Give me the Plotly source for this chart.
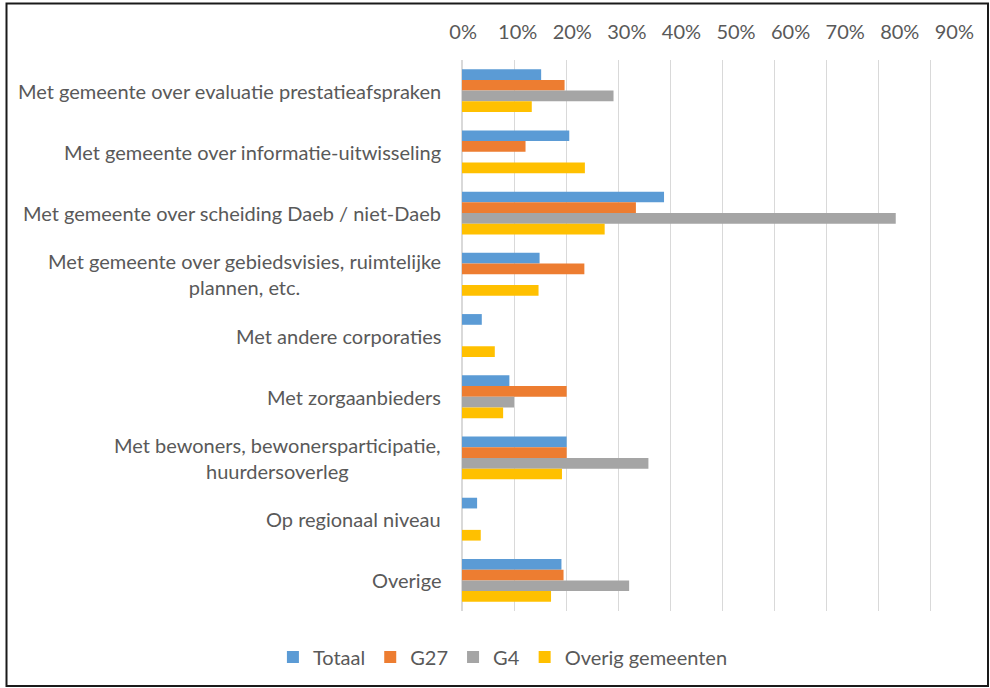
import plotly.graph_objects as go

categories = [
    "Met gemeente over evaluatie prestatieafspraken",
    "Met gemeente over informatie-uitwisseling",
    "Met gemeente over scheiding Daeb / niet-Daeb",
    "Met gemeente over gebiedsvisies, ruimtelijke<br>plannen, etc.",
    "Met andere corporaties",
    "Met zorgaanbieders",
    "Met bewoners, bewonersparticipatie,<br>huurdersoverleg",
    "Op regionaal niveau",
    "Overige",
]
totaal = [0.152, 0.206, 0.388, 0.149, 0.038, 0.091, 0.201, 0.029, 0.191]
g27 = [0.197, 0.122, 0.334, 0.235, 0, 0.201, 0.201, 0, 0.195]
g4 = [0.291, 0, 0.833, 0, 0, 0.100, 0.358, 0, 0.321]
overig = [0.134, 0.236, 0.274, 0.147, 0.063, 0.079, 0.192, 0.036, 0.171]
tick_vals = [0, 0.1, 0.2, 0.3, 0.4, 0.5, 0.6, 0.7, 0.8, 0.9]

series = [
    ("Totaal", totaal, "#5B9BD5"),
    ("G27", g27, "#ED7D31"),
    ("G4", g4, "#A5A5A5"),
    ("Overig gemeenten", overig, "#FFC000"),
]

W, H = 990, 688
L, R, T, B = 462, 15, 60, 77
FONT = "Lato"
FS = 20
GREY_TXT = "#595959"
pw, ph = W - L - R, H - T - B

# Excel : grille à ~52 px / 10 %, étiquettes à ~54.7 px / 10 %
grid_px = 52.07
label_px = 54.7

fig = go.Figure()
for name, vals, col in series:
    fig.add_trace(go.Bar(
        y=categories, x=vals, name=name, orientation="h",
        marker=dict(color=col, line=dict(width=0)),
    ))

# labels de catégories centrés sur plusieurs lignes (style Excel)
for cat in categories:
    fig.add_annotation(
        x=0, xref="paper", y=cat, yref="y", xanchor="right", xshift=-19,
        text=cat, showarrow=False, align="center",
        font=dict(family=FONT, size=FS, color=GREY_TXT),
    )

fig.add_shape(
    type="rect", xref="paper", yref="paper",
    x0=(6.5 - L) / pw, x1=(988 - L) / pw,
    y0=(ph + T - 686) / ph, y1=(ph + T - 3.5) / ph,
    line=dict(color="#1a1a1a", width=2),
)

fig.update_layout(
    width=W, height=H,
    margin=dict(l=L, r=R, t=T, b=B),
    paper_bgcolor="white", plot_bgcolor="white",
    barmode="group", bargap=0.30, bargroupgap=0,
    font=dict(family=FONT, size=FS, color=GREY_TXT),
    showlegend=True,
    legend=dict(
        orientation="h", xref="container", yref="container",
        x=0.508, y=1 - 657 / H, xanchor="center", yanchor="middle",
        font=dict(size=FS, color=GREY_TXT), itemwidth=30,
        traceorder="normal",
    ),
    xaxis=dict(
        side="top", range=[0, pw / (grid_px * 10)], tickvals=tick_vals,
        showticklabels=False,
        showgrid=True, gridcolor="#D9D9D9", gridwidth=1,
        zeroline=True, zerolinecolor="#D9D9D9", zerolinewidth=1.5,
        showline=False,
    ),
    xaxis2=dict(
        overlaying="x", side="top", range=[-0.002, pw / (label_px * 10)],
        tickvals=tick_vals, tickformat=".0%", showgrid=False, zeroline=False,
        showline=False, ticklabelstandoff=16, ticklabeloverflow="allow",
        tickfont=dict(family=FONT, size=FS, color=GREY_TXT),
    ),
    yaxis=dict(
        autorange="reversed", showticklabels=False, showgrid=False,
        showline=False, zeroline=False,
    ),
)
# axe fantôme pour porter les étiquettes du haut
fig.add_trace(go.Scatter(x=[None], y=[None], xaxis="x2", showlegend=False,
                         hoverinfo="skip"))

fig.write_html(
    "out.html",
    config={"displayModeBar": False},
    post_script="document.body.style.margin='0';",
)
